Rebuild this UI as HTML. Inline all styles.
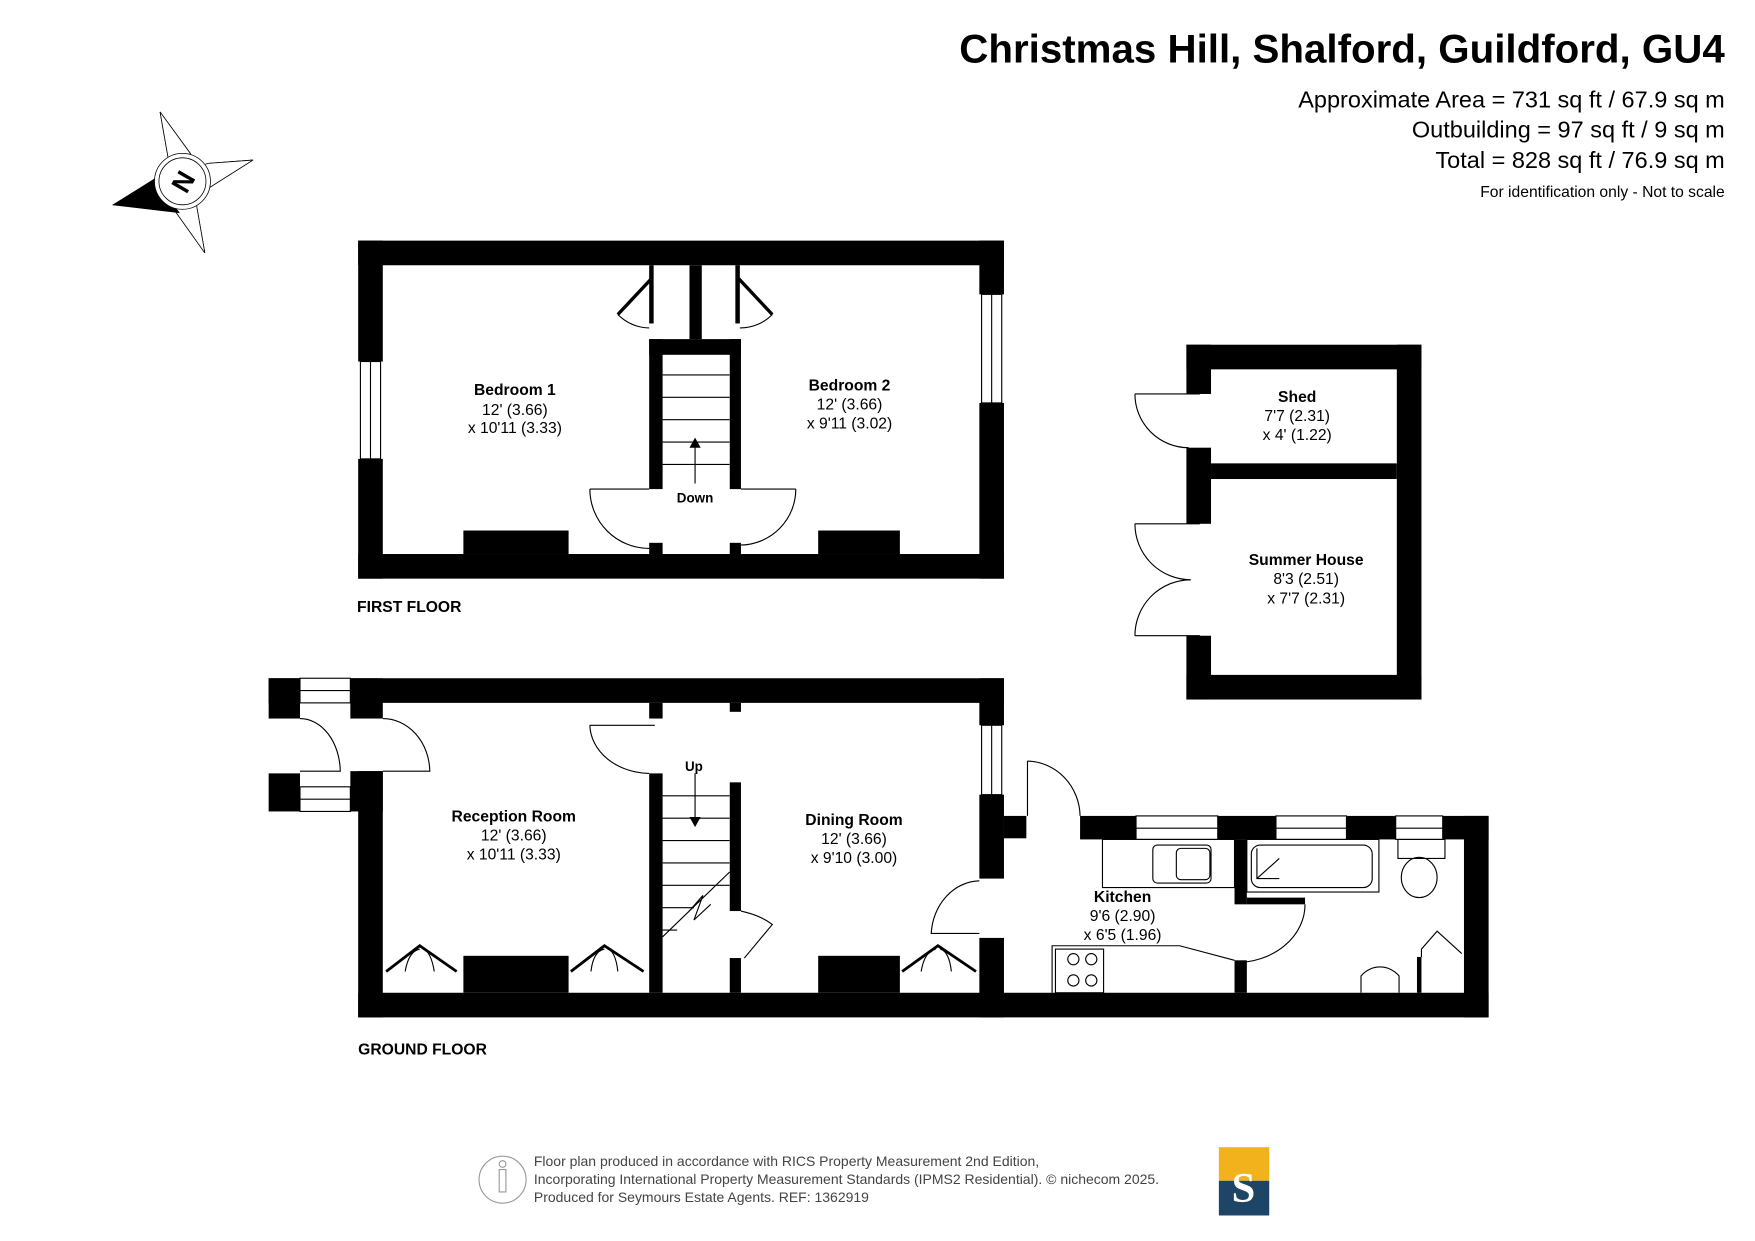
<!DOCTYPE html>
<html><head><meta charset="utf-8"><style>
html,body{margin:0;padding:0;background:#fff;}
svg{display:block;}
text{font-family:"Liberation Sans",Arial,sans-serif;fill:#000;}
.b{font-weight:bold;font-size:14px;}
.r{font-size:14px;}
</style></head><body>
<svg width="1755" height="1241" viewBox="0 0 1568 1108.8" xmlns="http://www.w3.org/2000/svg">
<rect width="1568" height="1109" fill="#fff"/>
<!-- header -->
<text x="1541" y="56" text-anchor="end" font-size="36" font-weight="bold">Christmas Hill, Shalford, Guildford, GU4</text>
<text x="1541" y="96" text-anchor="end" font-size="21">Approximate Area = 731 sq ft / 67.9 sq m</text>
<text x="1541" y="123" text-anchor="end" font-size="21">Outbuilding = 97 sq ft / 9 sq m</text>
<text x="1541" y="150" text-anchor="end" font-size="21">Total = 828 sq ft / 76.9 sq m</text>
<text x="1541" y="176" text-anchor="end" font-size="14">For identification only - Not to scale</text>

<!-- compass -->
<g stroke="#000" stroke-width="0.7" fill="#fff">
<polygon points="143,100 150,140 170,137"/>
<polygon points="226,143 186,146 188,167"/>
<polygon points="183,226 176,186 156,188"/>
<polygon points="143,100 150,140 156,188 170,137"/>
<polygon points="226,143 186,146 140,160 188,167"/>
<polygon points="183,226 176,186 170,137 156,188"/>
<polygon points="101,183 138,160 160,190" fill="#000"/>
<circle cx="163" cy="162" r="25"/>
<circle cx="163" cy="162" r="21"/>
</g>
<text x="163" y="171" text-anchor="middle" font-size="24" font-weight="bold" transform="rotate(-60 163 162)">N</text>

<!-- FIRST FLOOR -->
<g fill="#000">
<rect x="320" y="215" width="577" height="22"/>
<rect x="320" y="495" width="577" height="22"/>
<rect x="320" y="215" width="22" height="108"/><rect x="320" y="410" width="22" height="107"/>
<rect x="875" y="215" width="22" height="48"/><rect x="875" y="360" width="22" height="157"/>
<rect x="414" y="474" width="94" height="21"/>
<rect x="731" y="474" width="73" height="21"/>
<rect x="580" y="237" width="4" height="52"/><rect x="657" y="237" width="4" height="52"/>
<rect x="616" y="237" width="11" height="66"/>
<rect x="580" y="303" width="82" height="14"/>
<rect x="580" y="303" width="12" height="134"/><rect x="652" y="303" width="10" height="134"/>
<rect x="580" y="485" width="12" height="10"/><rect x="652" y="485" width="10" height="10"/>
</g>
<g fill="none" stroke="#000" stroke-width="1">
<rect x="322" y="323" width="18" height="87"/><line x1="331" y1="323" x2="331" y2="410"/>
<rect x="877" y="263" width="18" height="97"/><line x1="886" y1="263" x2="886" y2="360"/>
<line x1="592" y1="335" x2="652" y2="335"/><line x1="592" y1="355" x2="652" y2="355"/><line x1="592" y1="375" x2="652" y2="375"/><line x1="592" y1="395" x2="652" y2="395"/><line x1="592" y1="415" x2="652" y2="415"/>
<line x1="621" y1="395" x2="621" y2="432"/>
<path d="M527,437 L580,437 M527,437 A53,53 0 0 0 580,490"/>
<path d="M711,437 L662,437 M711,437 A50,50 0 0 1 662,487"/>
<path d="M552,281 A40,40 0 0 0 580,293"/>
<path d="M690,281 A40,40 0 0 1 661,293"/>
</g>
<g stroke="#000" stroke-width="3">
<line x1="552" y1="281" x2="582" y2="249"/>
<line x1="690" y1="281" x2="660" y2="249"/>
</g>
<polygon points="616,400 626,400 621,391" fill="#000"/>
<text x="460" y="353" text-anchor="middle" class="b">Bedroom 1</text>
<text x="460" y="371" text-anchor="middle" class="r">12' (3.66)</text>
<text x="460" y="387" text-anchor="middle" class="r">x 10'11 (3.33)</text>
<text x="759" y="349" text-anchor="middle" class="b">Bedroom 2</text>
<text x="759" y="366" text-anchor="middle" class="r">12' (3.66)</text>
<text x="759" y="383" text-anchor="middle" class="r">x 9'11 (3.02)</text>
<text x="621" y="449" text-anchor="middle" font-size="12" font-weight="bold">Down</text>
<text x="319" y="547" class="b" font-size="16">FIRST FLOOR</text>

<!-- OUTBUILDING -->
<g fill="#000">
<rect x="1060" y="308" width="210" height="22"/>
<rect x="1060" y="603" width="210" height="22"/>
<rect x="1248" y="308" width="22" height="317"/>
<rect x="1060" y="308" width="22" height="44"/>
<rect x="1060" y="400" width="22" height="68"/>
<rect x="1060" y="568" width="22" height="57"/>
<rect x="1082" y="414" width="166" height="14"/>
</g>
<g fill="none" stroke="#000">
<path d="M1014,352 L1072,352 M1014,352 A48,48 0 0 0 1062,400"/>
<path d="M1014,468 L1072,468 M1014,468 A50,50 0 0 0 1064,518 M1014,568 L1072,568 M1014,568 A50,50 0 0 1 1064,518"/>
</g>
<text x="1159" y="359" text-anchor="middle" class="b">Shed</text>
<text x="1159" y="376" text-anchor="middle" class="r">7'7 (2.31)</text>
<text x="1159" y="393" text-anchor="middle" class="r">x 4' (1.22)</text>
<text x="1167" y="505" text-anchor="middle" class="b">Summer House</text>
<text x="1167" y="522" text-anchor="middle" class="r">8'3 (2.51)</text>
<text x="1167" y="539" text-anchor="middle" class="r">x 7'7 (2.31)</text>

<!-- GROUND FLOOR -->
<g fill="#000">
<rect x="240" y="606" width="657" height="22"/>
<rect x="320" y="887" width="1010" height="22"/>
<rect x="240" y="606" width="28" height="36"/><rect x="240" y="691" width="28" height="34"/>
<rect x="313" y="606" width="29" height="36"/><rect x="313" y="689" width="29" height="36"/>
<rect x="320" y="689" width="22" height="220"/>
<rect x="580" y="628" width="12" height="14"/><rect x="652" y="628" width="10" height="8"/>
<rect x="580" y="691" width="12" height="196"/>
<rect x="652" y="699" width="10" height="115"/><rect x="652" y="856" width="10" height="31"/>
<rect x="414" y="854" width="94" height="33"/>
<rect x="731" y="854" width="73" height="33"/>
<rect x="875" y="606" width="22" height="42"/><rect x="875" y="710" width="22" height="75"/>
<rect x="875" y="838" width="22" height="71"/>
<rect x="897" y="729" width="20" height="20"/>
<rect x="965" y="729" width="365" height="21"/>
<rect x="1308" y="729" width="22" height="180"/>
<rect x="1103" y="750" width="11" height="58"/><rect x="1103" y="858" width="11" height="29"/>
<rect x="1114" y="802" width="52" height="6"/>
<rect x="1266" y="855" width="4" height="32"/>
</g>
<g fill="#fff" stroke="#000" stroke-width="1">
<rect x="268" y="606" width="45" height="22"/><line x1="268" y1="617" x2="313" y2="617"/>
<rect x="268" y="703" width="45" height="22"/><line x1="268" y1="714" x2="313" y2="714"/>
<rect x="877" y="648" width="18" height="62"/><line x1="886" y1="648" x2="886" y2="710"/>
<rect x="1015" y="729" width="73" height="21"/><line x1="1015" y1="740" x2="1088" y2="740"/>
<rect x="1140" y="729" width="63" height="21"/><line x1="1140" y1="740" x2="1203" y2="740"/>
<rect x="1247" y="729" width="42" height="21"/><line x1="1247" y1="740" x2="1289" y2="740"/>
</g>
<g fill="none" stroke="#000" stroke-width="1">
<path d="M268,642 A36,48 0 0 1 304,689 L268,689"/>
<path d="M342,642 A42,48 0 0 1 384,689 L342,689"/>
<path d="M527,648 L585,648 M527,648 A54,44 0 0 0 580,691"/>
<line x1="592" y1="711" x2="652" y2="711"/><line x1="592" y1="731" x2="652" y2="731"/><line x1="592" y1="751" x2="652" y2="751"/><line x1="592" y1="771" x2="652" y2="771"/><line x1="592" y1="791" x2="652" y2="791"/><line x1="592" y1="811" x2="620" y2="811"/><line x1="592" y1="831" x2="605" y2="831"/>
<path d="M592,837 L652,779 M615,815 L628,800 L620,822 L635,808"/>
<line x1="621" y1="691" x2="621" y2="730"/>
<path d="M662,814 Q680,818 690,826 L665,856"/>
<path d="M875,787 A44,50 0 0 0 832,834 L875,834"/>
<path d="M918,680 A48,50 0 0 1 965,729 M918,680 L918,729"/>
<path d="M1166,808 A62,52 0 0 1 1103,860"/>
<rect x="985" y="750" width="118" height="43"/>
<rect x="1030" y="755" width="52" height="34" rx="4"/><rect x="1051" y="758" width="30" height="28" rx="4"/>
<path d="M940,887 L940,845 L1054,845 L1103,858"/>
<rect x="943" y="848" width="43" height="39"/>
<circle cx="959" cy="857" r="5"/><circle cx="975" cy="857" r="5"/><circle cx="959" cy="876" r="5"/><circle cx="975" cy="876" r="5"/>
<rect x="1114" y="750" width="118" height="47"/>
<rect x="1118" y="755" width="108" height="38" rx="8"/>
<path d="M1123,758 L1123,785 L1143,785 M1123,785 L1143,767"/>
<rect x="1249" y="750" width="42" height="17"/>
<ellipse cx="1268" cy="784" rx="16" ry="18"/>
<path d="M1216,887 L1216,872 A22,22 0 0 1 1250,872 L1250,887"/>
<path d="M1270,855 L1270,848 L1284,832 L1306,852"/>
<path d="M362,868 Q365,850 375,848 M388,868 Q385,850 378,848"/>
<path d="M528,868 Q530,850 540,848 M552,868 Q550,850 543,848"/>
<path d="M823,868 Q826,850 836,848 M850,868 Q848,850 840,848"/>
</g>
<g fill="none" stroke="#000" stroke-width="2.5">
<path d="M345,868 L375,845 L408,868"/>
<path d="M510,868 L540,845 L575,868"/>
<path d="M806,868 L838,845 L872,868"/>
</g>
<polygon points="616,730 626,730 621,739" fill="#000"/>
<text x="459" y="734" text-anchor="middle" class="b">Reception Room</text>
<text x="459" y="751" text-anchor="middle" class="r">12' (3.66)</text>
<text x="459" y="768" text-anchor="middle" class="r">x 10'11 (3.33)</text>
<text x="763" y="737" text-anchor="middle" class="b">Dining Room</text>
<text x="763" y="754" text-anchor="middle" class="r">12' (3.66)</text>
<text x="763" y="771" text-anchor="middle" class="r">x 9'10 (3.00)</text>
<text x="620" y="689" text-anchor="middle" font-size="12" font-weight="bold">Up</text>
<text x="1003" y="806" text-anchor="middle" class="b">Kitchen</text>
<text x="1003" y="823" text-anchor="middle" class="r">9'6 (2.90)</text>
<text x="1003" y="840" text-anchor="middle" class="r">x 6'5 (1.96)</text>
<text x="320" y="942" class="b" font-size="16">GROUND FLOOR</text>

<!-- footer -->
<circle cx="449" cy="1054" r="21" fill="none" stroke="#999"/>
<path d="M446,1045 L446,1065 L452,1065 L452,1045 Z" fill="none" stroke="#999"/>
<circle cx="449" cy="1040" r="3" fill="none" stroke="#999"/>
<text x="477" y="1042" font-size="12.5" style="fill:#444">Floor plan produced in accordance with RICS Property Measurement 2nd Edition,</text>
<text x="477" y="1058" font-size="12.5" style="fill:#444">Incorporating International Property Measurement Standards (IPMS2 Residential).  © nichecom 2025.</text>
<text x="477" y="1074" font-size="12.5" style="fill:#444">Produced for Seymours Estate Agents.   REF: 1362919</text>
<rect x="1089" y="1025" width="45" height="30" fill="#f2b21c"/>
<rect x="1089" y="1055" width="45" height="31" fill="#1f4566"/>
<text x="1111" y="1074" text-anchor="middle" font-size="38" font-weight="bold" style="fill:#fff;font-family:'Liberation Serif',serif">S</text>
</svg>
</body></html>
